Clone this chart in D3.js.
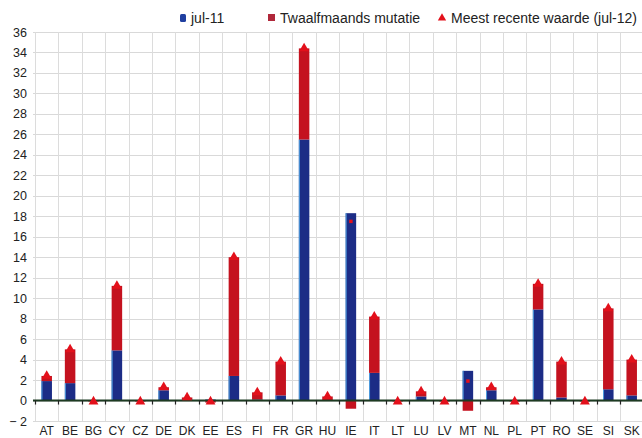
<!DOCTYPE html>
<html>
<head>
<meta charset="utf-8">
<script src="https://cdn.jsdelivr.net/npm/d3@7"></script>
<style>
  html, body { margin: 0; padding: 0; background: #fff; }
  svg { display: block; }
  text { font-family: "Liberation Sans", Arial, sans-serif; fill: #222; }
</style>
</head>
<body>
<svg id="chart" width="642" height="438"></svg>
<script>
const countries = ["AT","BE","BG","CY","CZ","DE","DK","EE","ES","FI","FR","GR","HU","IE","IT","LT","LU","LV","MT","NL","PL","PT","RO","SE","SI","SK"];
const jul11   = [1.9, 1.7, 0.0, 4.9, 0.0, 1.0, 0.1, 0.1, 2.4, 0.1, 0.5, 25.5, 0.0, 18.3, 2.7, 0.0, 0.4, 0.0, 2.9, 1.0, 0.0, 8.9, 0.3, 0.0, 1.1, 0.5];
const mutatie = [0.5, 3.3, -0.1, 6.3, -0.1, 0.3, 0.2, -0.2, 11.6, 0.7, 3.3, 8.9, 0.4, -0.8, 5.5, -0.1, 0.5, -0.1, -1.0, 0.3, -0.1, 2.5, 3.5, -0.1, 7.9, 3.5];
const latest  = [2.4, 5.0, -0.1, 11.2, -0.1, 1.3, 0.3, -0.1, 14.0, 0.8, 3.8, 34.4, 0.4, 17.5, 8.2, -0.1, 0.9, -0.1, 1.9, 1.3, -0.1, 11.4, 3.8, -0.1, 9.0, 4.0];
const yTicks  = d3.range(-2, 37, 2);
const legendLabels = ["jul-11", "Twaalfmaands mutatie", "Meest recente waarde (jul-12)"];

const colBlue = "#1c2c86", colRed = "#c4121f", colTri = "#e3101b";

const svg = d3.select("#chart");
const x = d3.scaleBand().domain(countries).range([35, 643.4]);
const y = d3.scaleLinear().domain([-2, 36]).range([421, 32]);
const barW = 10.5;

// grid
const g = svg.append("g");
g.selectAll("line.h").data(yTicks).join("line")
  .attr("x1", 33).attr("x2", 642)
  .attr("y1", d => Math.round(y(d)) + 0.5).attr("y2", d => Math.round(y(d)) + 0.5)
  .attr("stroke", "#d9d9d9").attr("stroke-width", 1);
const bounds = countries.map(c => x(c)).concat([x.range()[1]]);
g.selectAll("line.v").data(bounds).join("line")
  .attr("x1", d => Math.round(d) + 0.5).attr("x2", d => Math.round(d) + 0.5)
  .attr("y1", y(36)).attr("y2", y(-2))
  .attr("stroke", "#dcdcdc").attr("stroke-width", 1);

// y labels
svg.append("g").selectAll("text").data(yTicks).join("text")
  .attr("x", 27).attr("y", d => y(d) + 4.5)
  .attr("text-anchor", "end").attr("font-size", 12.5)
  .text(d => d < 0 ? "\u2212 " + Math.abs(d) : d);

// blue bars
const bars = svg.append("g");
bars.selectAll("rect.b").data(countries).join("rect")
  .attr("x", c => x(c) + x.bandwidth() / 2 - barW / 2)
  .attr("width", barW)
  .attr("y", (c, i) => y(Math.max(0, jul11[i])))
  .attr("height", (c, i) => Math.abs(y(0) - y(jul11[i])))
  .attr("fill", colBlue);
bars.selectAll("line.edge").data(countries.filter((c, i) => jul11[i] > 0.3)).join("line")
  .attr("x1", c => x(c) + x.bandwidth() / 2 - barW / 2 + 0.5)
  .attr("x2", c => x(c) + x.bandwidth() / 2 - barW / 2 + 0.5)
  .attr("y1", c => y(jul11[countries.indexOf(c)])).attr("y2", y(0))
  .attr("stroke", "#4f9fe0").attr("stroke-width", 1);

// red change bars: positive stacked on jul-11, negative below zero
bars.selectAll("rect.r").data(countries).join("rect")
  .attr("x", c => x(c) + x.bandwidth() / 2 - barW / 2)
  .attr("width", barW)
  .attr("y", (c, i) => mutatie[i] >= 0 ? y(jul11[i] + mutatie[i]) : y(0))
  .attr("height", (c, i) => Math.abs(y(0) - y(mutatie[i])))
  .attr("fill", colRed);

// zero line and ticks
svg.append("line").attr("x1", 33).attr("x2", 642)
  .attr("y1", y(0)).attr("y2", y(0))
  .attr("stroke", "#1d3b22").attr("stroke-width", 2);
svg.append("g").selectAll("line").data(bounds).join("line")
  .attr("x1", d => Math.round(d) + 0.5).attr("x2", d => Math.round(d) + 0.5)
  .attr("y1", y(0)).attr("y2", y(0) + 4)
  .attr("stroke", "#222").attr("stroke-width", 1.2);

// latest value markers (small dot when inside a shrinking bar)
const tri = d3.symbol().type(d3.symbolTriangle).size(42);
const dot = d3.symbol().type(d3.symbolSquare).size(12);
svg.append("g").selectAll("path").data(countries).join("path")
  .attr("d", (c, i) => (mutatie[i] < 0 && latest[i] > 1) ? dot() : tri())
  .attr("transform", (c, i) => `translate(${x(c) + x.bandwidth() / 2},${y(latest[i])})`)
  .attr("fill", colTri);

// x labels
svg.append("g").selectAll("text").data(countries).join("text")
  .attr("x", c => x(c) + x.bandwidth() / 2).attr("y", 435)
  .attr("text-anchor", "middle").attr("font-size", 12)
  .text(c => c);

// legend
const leg = svg.append("g").attr("font-size", 14);
leg.append("rect").attr("x", 180).attr("y", 14).attr("width", 6).attr("height", 8).attr("rx", 1.5).attr("fill", "#1f3fa0");
leg.append("text").attr("x", 191).attr("y", 23).text(legendLabels[0]);
leg.append("rect").attr("x", 268).attr("y", 14).attr("width", 7).attr("height", 7).attr("fill", "#b0283a");
leg.append("text").attr("x", 280).attr("y", 23).text(legendLabels[1]);
leg.append("path").attr("d", d3.symbol().type(d3.symbolTriangle).size(30))
  .attr("transform", "translate(442,18)").attr("fill", colTri);
leg.append("text").attr("x", 451).attr("y", 23).text(legendLabels[2]);
</script>
</body>
</html>
